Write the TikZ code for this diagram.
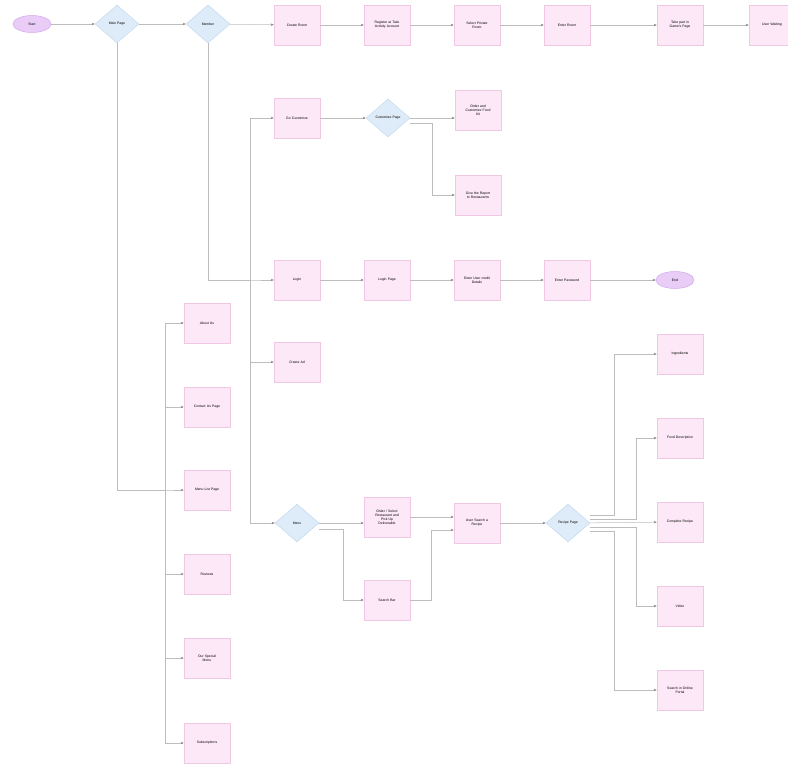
\documentclass[tikz,border=0pt]{standalone}
\usepackage{fontspec}
\setmainfont{Liberation Sans}
\usetikzlibrary{positioning,shapes.geometric,arrows.meta}
\definecolor{flrule}{HTML}{BDBDBD}
\definecolor{flboxbg}{HTML}{FCE8F6}
\definecolor{flboxdraw}{HTML}{F0C8E4}
\definecolor{fldecbg}{HTML}{DEEBF8}
\definecolor{fldecdraw}{HTML}{C4DAF0}
\definecolor{flendbg}{HTML}{E9CDF6}
\definecolor{flenddraw}{HTML}{D2A8EC}

\begin{document}
\begin{tikzpicture}[x=1pt, y=-1pt,
  font=\fontsize{3.4}{4.1}\selectfont,
  box/.style={draw=flboxdraw, fill=flboxbg, minimum width=46pt, minimum height=40pt,
              text width=40pt, align=center, inner sep=1pt, line width=0.5pt},
  choice/.style={diamond, draw=fldecdraw, fill=fldecbg, minimum width=44pt,
                 minimum height=38pt, inner sep=0pt, align=center, line width=0.5pt},
  term/.style={ellipse, draw=flenddraw, fill=flendbg, minimum width=38pt,
               minimum height=17pt, inner sep=0pt, line width=0.5pt},
  link/.style={draw=flrule, line width=0.5pt, -{Stealth[length=3pt,width=2.4pt,color=gray]}}]
  \useasboundingbox (0,0) rectangle (788,765);
  \node[term] (start) at (32,24) {Start};
  \node[choice] (mp) at (117,24) {Main Page};
  \node[choice] (mem) at (208,24) {Member};
  \node[box] (room) at (297,25) {Create Room};
  \node[box] (reg) at (387,25) {Register at Task\\Activity Account};
  \node[box] (priv) at (477,25) {Select Private\\Room};
  \node[box] (enter) at (567,25) {Enter Room};
  \node[box] (game) at (680,25) {Take part in\\Game's Page};
  \node[box] (wait) at (772,25) {User Waiting};
  \node[box] (cust) at (297,118) {Go Customize};
  \node[choice] (cpage) at (388,118) {Customize Page};
  \node[box] (kit) at (478,110) {Order and\\Customize Food\\Kit};
  \node[box] (report) at (478,195) {Give the Report\\to Restaurants};
  \node[box] (login) at (297,280) {Login};
  \node[box] (lpage) at (387,280) {Login Page};
  \node[box] (cred) at (477,280) {Enter User credit\\Details};
  \node[box] (pass) at (567,280) {Enter Password};
  \node[term] (end) at (675,280) {End};
  \node[box] (ad) at (297,362) {Create Ad};
  \node[box] (about) at (207,323) {About Us};
  \node[box] (contact) at (207,407) {Contact Us Page};
  \node[box] (list) at (207,490) {Menu List Page};
  \node[box] (reviews) at (207,574) {Reviews};
  \node[box] (special) at (207,658) {Our Special\\Menu};
  \node[box] (subs) at (207,743) {Subscriptions};
  \node[choice] (menu) at (297,523) {Menu};
  \node[box] (order) at (387,517) {Order / Select\\Restaurant and\\Pick Up\\Deliverable};
  \node[box] (sbar) at (387,600) {Search Bar};
  \node[box] (usr) at (477,523) {User Search a\\Recipe};
  \node[choice] (rpage) at (568,523) {Recipe Page};
  \node[box] (ingr) at (680,354) {Ingredients};
  \node[box] (desc) at (680,438) {Food Description};
  \node[box] (full) at (680,522) {Complete Recipe};
  \node[box] (video) at (680,606) {Video};
  \node[box] (portal) at (680,690) {Search in Online\\Portal};
  \coordinate (lbus) at (165,490);
  \coordinate (mbus) at (250,280);
  \foreach \a/\b in {start/mp, mp/mem, mem/room, room/reg, reg/priv, priv/enter, enter/game,
                     game/wait, cust/cpage, login/lpage, lpage/cred, cred/pass, pass/end,
                     usr/rpage, rpage/full}
    \draw[link] (\a) -- (\b);
  \foreach \n in {about, contact, list, reviews, special, subs}
    \draw[link] (mp.south) |- (lbus) |- (\n.west);
  \foreach \n in {cust, login, ad, menu}
    \draw[link] (mem.south) |- (mbus) |- (\n.west);
  \draw[link] (cpage.east) -- (cpage.east -| kit.west);
  \draw[link] ([yshift=-5pt]cpage.east) -| ([xshift=-23pt]report.west) -- (report.west);
  \draw[link] (menu.east) -- (menu.east -| order.west);
  \draw[link] ([yshift=-6pt]menu.east) -| ([xshift=-21pt]sbar.west) -- (sbar.west);
  \draw[link] (order.east) -- (order.east -| usr.west);
  \draw[link] (sbar.east) -| ([xshift=-23pt,yshift=-7pt]usr.west) -- ([yshift=-7pt]usr.west);
  \draw[link] ([yshift=8pt]rpage.east) -| ([xshift=-43pt]ingr.west) -- (ingr.west);
  \draw[link] ([yshift=4pt]rpage.east) -| ([xshift=-21pt]desc.west) -- (desc.west);
  \draw[link] ([yshift=-4pt]rpage.east) -| ([xshift=-21pt]video.west) -- (video.west);
  \draw[link] ([yshift=-8pt]rpage.east) -| ([xshift=-43pt]portal.west) -- (portal.west);
\end{tikzpicture}
\end{document}
